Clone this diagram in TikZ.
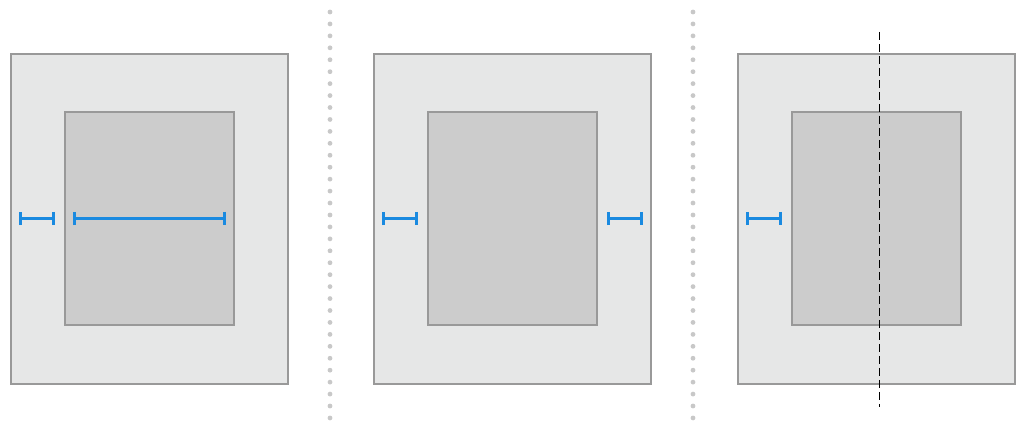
\documentclass[tikz,border=0pt]{standalone}
\usetikzlibrary{arrows.meta}
\definecolor{pagefill}{HTML}{E6E7E7}
\definecolor{boxfill}{HTML}{CCCCCC}
\definecolor{framegray}{HTML}{999999}
\definecolor{measureblue}{HTML}{1A8AE0}
\definecolor{dotgray}{HTML}{C8C8C8}
\tikzset{
  page/.style={draw=framegray,fill=pagefill,line width=1.2pt,anchor=north west,minimum width=5.54cm,minimum height=6.6cm,inner sep=0pt},
  textbox/.style={draw=framegray,fill=boxfill,line width=1.2pt,anchor=north west,minimum width=3.38cm,minimum height=4.26cm,inner sep=0pt},
  measure/.style={measureblue,line width=1.2pt,{Bar[width=7.5pt,line width=1.7pt]}-{Bar[width=7.5pt,line width=1.7pt]}},
  cutline/.style={black,line width=0.8pt,dash pattern=on 0.16cm off 0.08cm}
}
\begin{document}
\begin{tikzpicture}[x=0.02cm,y=-0.02cm]
                \useasboundingbox (0,0) rectangle (1024,431);
                \foreach \x in {330,693}
                    \foreach \k in {0,...,34}
                        \fill[dotgray] (\x,12+\k*11.94) circle (2.4);
                \foreach \n/\x in {1/10,2/373,3/737} {
                    \node[page] (page\n) at (\x,53) {};
                    \node[textbox] (box\n) at ([shift={(54,58)}]page\n.north west) {};
                    \draw[measure] ([shift={(-45,0)}]box\n.west) -- ([shift={(-9,0)}]box\n.west);
                }
                \draw[measure] ([shift={(9,0)}]box1.west) -- ([shift={(-9,0)}]box1.east);
                \draw[measure] ([shift={(9,0)}]box2.east) -- ([shift={(45,0)}]box2.east);
                \draw[cutline] ([shift={(3,-21)}]page3.north) -- ([shift={(3,22)}]page3.south);
            \end{tikzpicture}
\end{document}
